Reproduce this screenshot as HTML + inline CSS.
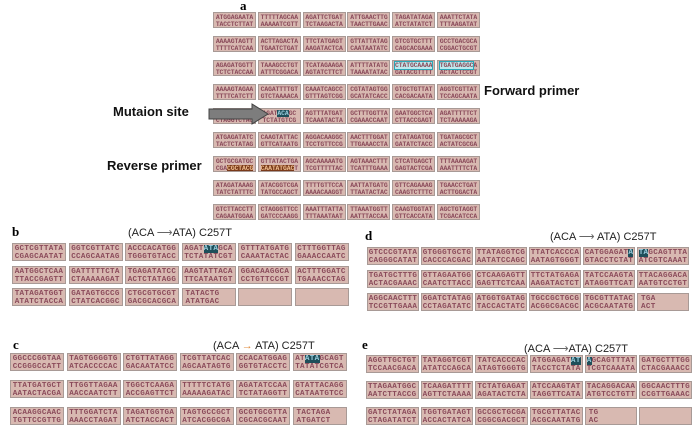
<!DOCTYPE html>
<html><head><meta charset="utf-8"><style>
*{margin:0;padding:0;box-sizing:border-box}
body{width:693px;height:440px;background:#fff;position:relative;overflow:hidden;font-family:"Liberation Sans",sans-serif}
.p{position:absolute}
.row{position:absolute;display:flex}
.b{background:#d8b9b1;border:1px solid #a89a96;font-family:"Liberation Mono",monospace;font-weight:bold;color:#8a4a5a;white-space:nowrap;overflow:hidden;text-align:center}
.a .b{width:43px;height:16px;margin-right:1.8px;font-size:6.4px;line-height:7px;padding-top:0.5px;letter-spacing:-0.1px}
.m .b{height:18px;font-size:7.6px;line-height:8px;padding-top:0.5px;letter-spacing:0.3px}
.bb .b{width:54px;margin-right:2.5px}
.dd .b{width:52px;margin-right:2px}
.ee .b{width:52.5px;margin-right:2.2px}
.lbl{position:absolute;font-weight:bold;font-size:13px;color:#111}
.L{position:absolute;font-family:"Liberation Serif",serif;font-weight:bold;font-size:13px}
.t{position:absolute;font-size:11px;color:#222}
.n{position:absolute;font-size:5px;color:#777}
.hl{background:#1e4f5a;color:#9cd}
.cy{outline:1px solid #2aa7b8;background:#bfe8ec}
.br{background:#7a3a1a;color:#f0c090}
</style></head><body>

<div class="L" style="left:240px;top:-2px">a</div>

<div class="a">
<div class="row" style="left:213px;top:12px"><div class="b">ATGGAGAATA<br>TACCTCTTAT</div><div class="b">TTTTTAGCAA<br>AAAAATCGTT</div><div class="b">AGATTCTGAT<br>TCTAAGACTA</div><div class="b">ATTGAACTTG<br>TAACTTGAAC</div><div class="b">TAGATATAGA<br>ATCTATATCT</div><div class="b">AAATTCTATA<br>TTTAAGATAT</div></div>
<div class="row" style="left:213px;top:36px"><div class="b">AAAAGTAGTT<br>TTTTCATCAA</div><div class="b">ACTTAGACTA<br>TGAATCTGAT</div><div class="b">TTCTATGAGT<br>AAGATACTCA</div><div class="b">GTTATTATAG<br>CAATAATATC</div><div class="b">GTCGTGCTTT<br>CAGCACGAAA</div><div class="b">GCCTGACGCA<br>CGGACTGCGT</div></div>
<div class="row" style="left:213px;top:60px"><div class="b">AGAGATGGTT<br>TCTCTACCAA</div><div class="b">TAAAGCCTGT<br>ATTTCGGACA</div><div class="b">TCATAGAAGA<br>AGTATCTTCT</div><div class="b">ATTTTATATG<br>TAAAATATAC</div><div class="b"><span class="cy">CTATGCAAAA</span><br>GATACGTTTT</div><div class="b"><span class="cy">TGATGAGGC</span>A<br>ACTACTCCGT</div></div>
<div class="row" style="left:213px;top:84px"><div class="b">AAAAGTAGAA<br>TTTTCATCTT</div><div class="b">CAGATTTTGT<br>GTCTAAAACA</div><div class="b">CAAATCAGCC<br>GTTTAGTCGG</div><div class="b">CGTATAGTGG<br>GCATATCACC</div><div class="b">GTGCTGTTAT<br>CACGACAATA</div><div class="b">AGGTCGTTAT<br>TCCAGCAATA</div></div>
<div class="row" style="left:213px;top:108px"><div class="b">GATCCAGATG<br>CTAGGTCTAC</div><div class="b">AGAT<span class="hl">ACA</span>GC<br>TCTATGTCG</div><div class="b">AGTTTATGAT<br>TCAAATACTA</div><div class="b">GCTTTGGTTA<br>CGAAACCAAT</div><div class="b">GAATGGCTCA<br>CTTACCGAGT</div><div class="b">AGATTTTTCT<br>TCTAAAAAGA</div></div>
<div class="row" style="left:213px;top:132px"><div class="b">ATGAGATATC<br>TACTCTATAG</div><div class="b">CAAGTATTAC<br>GTTCATAATG</div><div class="b">AGGACAAGGC<br>TCCTGTTCCG</div><div class="b">AACTTTGGAT<br>TTGAAACCTA</div><div class="b">CTATAGATGG<br>GATATCTACC</div><div class="b">TGATAGCGCT<br>ACTATCGCGA</div></div>
<div class="row" style="left:213px;top:156px"><div class="b">GCTGCGATGC<br>CGA<span class="br">CGCTACG</span></div><div class="b">GTTATACTGA<br><span class="br">CAATATGAC</span>T</div><div class="b">AGCAAAAATG<br>TCGTTTTTAC</div><div class="b">AGTAAACTTT<br>TCATTTGAAA</div><div class="b">CTCATGAGCT<br>GAGTACTCGA</div><div class="b">TTTAAAAGAT<br>AAATTTTCTA</div></div>
<div class="row" style="left:213px;top:180px"><div class="b">ATAGATAAAG<br>TATCTATTTC</div><div class="b">ATACGGTCGA<br>TATGCCAGCT</div><div class="b">TTTTGTTCCA<br>AAAACAAGGT</div><div class="b">AATTATGATG<br>TTAATACTAC</div><div class="b">GTTCAGAAAG<br>CAAGTCTTTC</div><div class="b">TGAACCTGAT<br>ACTTGGACTA</div></div>
<div class="row" style="left:213px;top:204px"><div class="b">GTCTTACCTT<br>CAGAATGGAA</div><div class="b">CTAGGGTTCC<br>GATCCCAAGG</div><div class="b">AAATTTATTA<br>TTTAAATAAT</div><div class="b">TTAAATGGTT<br>AATTTACCAA</div><div class="b">CAAGTGGTAT<br>GTTCACCATA</div><div class="b">AGCTGTAGGT<br>TCGACATCCA</div></div>
</div>

<div class="lbl" style="left:113px;top:104px">Mutaion site</div>
<svg class="p" style="left:208px;top:103px" width="62" height="22"><polygon points="1,6 44,6 44,1 60,11 44,21 44,16 1,16" fill="#7d7d7d" stroke="#444" stroke-width="1"/></svg>
<div class="lbl" style="left:107px;top:158px">Reverse primer</div>
<div class="lbl" style="left:484px;top:83px">Forward primer</div>

<!-- b -->
<div class="L" style="left:12px;top:224px">b</div>
<div class="t" style="left:128px;top:226px">(ACA <span style="color:#666">⟶</span>ATA) C257T</div>
<div class="m bb">
<div class="row" style="left:12px;top:243px"><div class="b">GCTCGTTATA<br>CGAGCAATAT</div><div class="b">GGTCGTTATC<br>CCAGCAATAG</div><div class="b">ACCCACATGG<br>TGGGTGTACC</div><div class="b">AGAT<span class="hl">ATA</span>GCA<br>TCTATATCGT</div><div class="b">GTTTATGATG<br>CAAATACTAC</div><div class="b">CTTTGGTTAG<br>GAAACCAATC</div></div>
<div class="row" style="left:12px;top:266px"><div class="b">AATGGCTCAA<br>TTACCGAGTT</div><div class="b">GATTTTTCTA<br>CTAAAAAGAT</div><div class="b">TGAGATATCC<br>ACTCTATAGG</div><div class="b">AAGTATTACA<br>TTCATAATGT</div><div class="b">GGACAAGGCA<br>CCTGTTCCGT</div><div class="b">ACTTTGGATC<br>TGAAACCTAG</div></div>
<div class="row" style="left:12px;top:288px"><div class="b">TATAGATGGT<br>ATATCTACCA</div><div class="b">GATAGTGCCG<br>CTATCACGGC</div><div class="b">CTGCGTGCGT<br>GACGCACGCA</div><div class="b" style="text-align:left;padding-left:3px">TATACTG<br>ATATGAC</div><div class="b"></div><div class="b"></div></div>
</div>

<!-- d -->
<div class="L" style="left:365px;top:228px">d</div>
<div class="t" style="left:550px;top:230px">(ACA <span style="color:#666">⟶</span> ATA) C257T</div>
<div class="m dd">
<div class="row" style="left:367px;top:247px"><div class="b">GTCCCGTATA<br>CAGGGCATAT</div><div class="b">GTGGGTGCTG<br>CACCCACGAC</div><div class="b">TTATAGGTCG<br>AATATCCAGC</div><div class="b">TTATCACCCA<br>AATAGTGGGT</div><div class="b">CATGGAGAT<span class="hl">A</span><br>GTACCTCTAT</div><div class="b"><span class="hl">TA</span>GCAGTTTA<br>ATCGTCAAAT</div></div>
<div class="row" style="left:367px;top:270px"><div class="b">TGATGCTTTG<br>ACTACGAAAC</div><div class="b">GTTAGAATGG<br>CAATCTTACC</div><div class="b">CTCAAGAGTT<br>GAGTTCTCAA</div><div class="b">TTCTATGAGA<br>AAGATACTCT</div><div class="b">TATCCAAGTA<br>ATAGGTTCAT</div><div class="b">TTACAGGACA<br>AATGTCCTGT</div></div>
<div class="row" style="left:367px;top:293px"><div class="b">AGGCAACTTT<br>TCCGTTGAAA</div><div class="b">GGATCTATAG<br>CCTAGATATC</div><div class="b">ATGGTGATAG<br>TACCACTATC</div><div class="b">TGCCGCTGCG<br>ACGGCGACGC</div><div class="b">TGCGTTATAC<br>ACGCAATATG</div><div class="b" style="text-align:left;padding-left:3px">TGA<br>ACT</div></div>
</div>

<!-- c -->
<div class="L" style="left:13px;top:337px">c</div>
<div class="t" style="left:213px;top:340px">(ACA <span style="color:#e08a3a">→</span> ATA) C257T</div>
<div class="m bb">
<div class="row" style="left:10px;top:353px"><div class="b">GGCCCGGTAA<br>CCGGGCCATT</div><div class="b">TAGTGGGGTG<br>ATCACCCCAC</div><div class="b">CTGTTATAGG<br>GACAATATCC</div><div class="b">TCGTTATCAC<br>AGCAATAGTG</div><div class="b">CCACATGGAG<br>GGTGTACCTC</div><div class="b">AT<span class="hl">ATA</span>GCAGT<br>TATATCGTCA</div></div>
<div class="row" style="left:10px;top:380px"><div class="b">TTATGATGCT<br>AATACTACGA</div><div class="b">TTGGTTAGAA<br>AACCAATCTT</div><div class="b">TGGCTCAAGA<br>ACCGAGTTCT</div><div class="b">TTTTTCTATG<br>AAAAAGATAC</div><div class="b">AGATATCCAA<br>TCTATAGGTT</div><div class="b">GTATTACAGG<br>CATAATGTCC</div></div>
<div class="row" style="left:10px;top:407px"><div class="b">ACAAGGCAAC<br>TGTTCCGTTG</div><div class="b">TTTGGATCTA<br>AAACCTAGAT</div><div class="b">TAGATGGTGA<br>ATCTACCACT</div><div class="b">TAGTGCCGCT<br>ATCACGGCGA</div><div class="b">GCGTGCGTTA<br>CGCACGCAAT</div><div class="b" style="text-align:left;padding-left:3px">TACTAGA<br>ATGATCT</div></div>
</div>

<!-- e -->
<div class="L" style="left:362px;top:337px">e</div>
<div class="t" style="left:524px;top:342px">(ACA <span style="color:#666">⟶</span>ATA) C257T</div>
<div class="m ee">
<div class="row" style="left:366px;top:355px"><div class="b">AGGTTGCTGT<br>TCCAACGACA</div><div class="b">TATAGGTCGT<br>ATATCCAGCA</div><div class="b">TATCACCCAC<br>ATAGTGGGTG</div><div class="b">ATGGAGAT<span class="hl">AT</span><br>TACCTCTATA</div><div class="b"><span class="hl">A</span>GCAGTTTAT<br>TCGTCAAATA</div><div class="b">GATGCTTTGG<br>CTACGAAACC</div></div>
<div class="row" style="left:366px;top:381px"><div class="b">TTAGAATGGC<br>AATCTTACCG</div><div class="b">TCAAGATTTT<br>AGTTCTAAAA</div><div class="b">TCTATGAGAT<br>AGATACTCTA</div><div class="b">ATCCAAGTAT<br>TAGGTTCATA</div><div class="b">TACAGGACAA<br>ATGTCCTGTT</div><div class="b">GGCAACTTTG<br>CCGTTGAAAC</div></div>
<div class="row" style="left:366px;top:407px"><div class="b">GATCTATAGA<br>CTAGATATCT</div><div class="b">TGGTGATAGT<br>ACCACTATCA</div><div class="b">GCCGCTGCGA<br>CGGCGACGCT</div><div class="b">TGCGTTATAC<br>ACGCAATATG</div><div class="b" style="text-align:left;padding-left:3px">TG<br>AC</div><div class="b"></div></div>
</div>

</body></html>
